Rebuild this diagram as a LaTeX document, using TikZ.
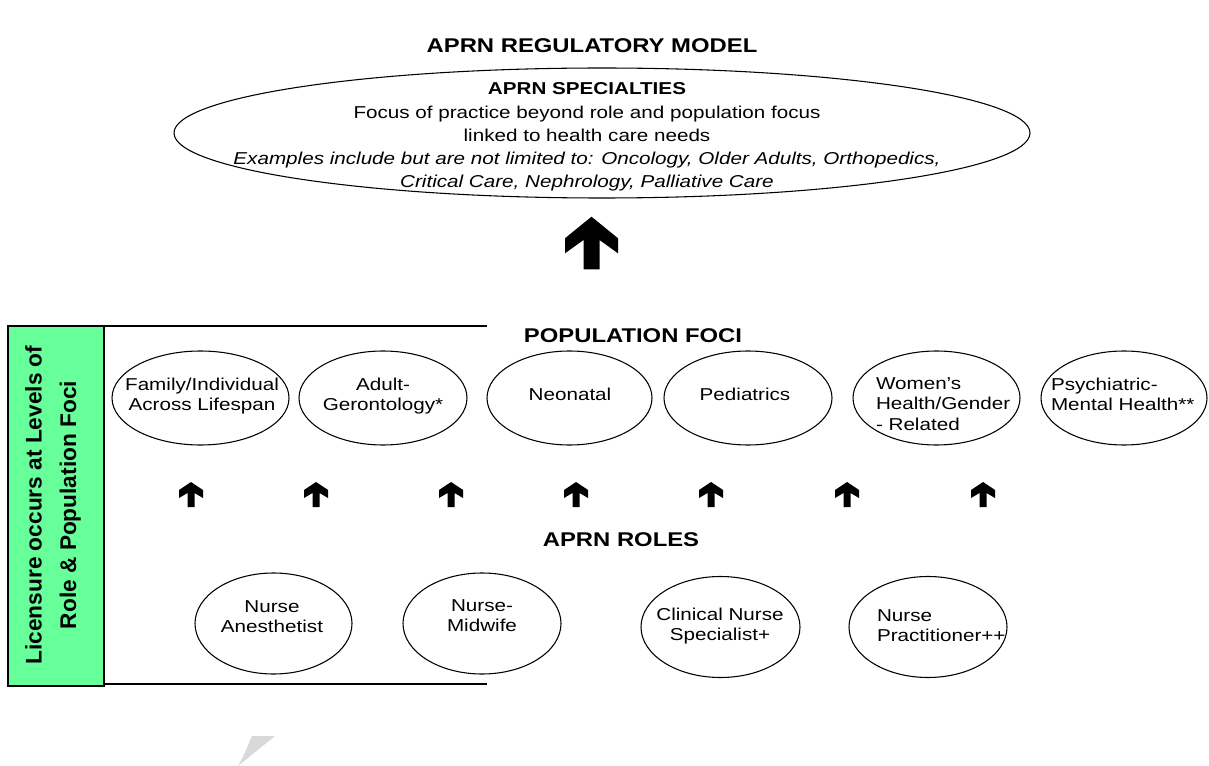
\documentclass[tikz,border=0pt]{standalone}
\usepackage{fontspec}
\setmainfont{Liberation Sans}[FakeStretch=1.2]
\newfontfamily\plainsans{Liberation Sans}
\usetikzlibrary{shapes.geometric}
\definecolor{licgreen}{RGB}{102,255,153}
\begin{document}
\begin{tikzpicture}[x=0.75pt,y=-0.75pt,
  every node/.style={inner sep=0pt, outer sep=0pt},
  oval/.style 2 args={draw, ellipse, line width=0.8pt, minimum width=#1*1.5pt, minimum height=#2*1.5pt},
  lbl/.style={font=\fontsize{12.9pt}{15.2pt}\selectfont, align=center},
  lbll/.style={font=\fontsize{12.9pt}{15.2pt}\selectfont, align=left, anchor=west},
  hdr/.style={font=\fontsize{14.9pt}{17pt}\selectfont\bfseries},
  rule/.style={line width=0.8pt},
  smallup/.pic={\fill (0,0) -- (-12,8) -- (-12,16) -- (-3.5,11) -- (-3.5,25) -- (3.5,25) -- (3.5,11) -- (12,16) -- (12,8) -- cycle;},
  bigup/.pic={\fill (0,0) -- (-26.5,21.6) -- (-26.5,36.6) -- (-8,23.3) -- (-8,52.6) -- (8,52.6) -- (8,23.3) -- (26.5,36.6) -- (26.5,21.6) -- cycle;}
]
\useasboundingbox[fill=white] (0,0) rectangle (1209,766);

% title
\node[hdr] (title) at (592,46) {APRN REGULATORY MODEL};

% specialties
\node[oval={428}{65}] (spec) at (602,133) {};
\node[font=\fontsize{12.9pt}{17.4pt}\selectfont, align=center] (spectext) at (587,137)
 {\textbf{APRN SPECIALTIES}\\
  Focus of practice beyond role and population focus\\
  linked to health care needs\\
  \textit{Examples include but are not limited to: Oncology, Older Adults, Orthopedics,}\\
  \textit{Critical Care, Nephrology, Palliative Care}};

\pic (bigarrow) at (591.5,216.7) {bigup};

% licensure box
\node[draw, rule, fill=licgreen, minimum width=96*0.75pt, minimum height=360*0.75pt] (lic) at (56,506) {};
\node[rotate=90, font=\plainsans\bfseries\fontsize{17pt}{26pt}\selectfont, align=center] (lictext) at (53,505)
 {Licensure occurs at Levels of\\Role \& Population Foci};
\coordinate (topend) at (487,326);
\coordinate (botend) at (487,684);
\draw[rule] (lic.north east) -- (topend);
\draw[rule] (lic.south east |- botend) -- (botend);

% population foci
\node[hdr] (pophdr) at (633,336) {POPULATION FOCI};
\node[oval={88.5}{47}] (p1) at (200.5,398) {};
\node[oval={84}{47}] (p2) at (383,398) {};
\node[oval={82.5}{47}] (p3) at (569.5,398) {};
\node[oval={84}{47}] (p4) at (748,398) {};
\node[oval={83.5}{47}] (p5) at (936.5,398) {};
\node[oval={83}{47}] (p6) at (1124,398) {};
\node[lbl] (t1) at (202,396) {Family/Individual\\Across Lifespan};
\node[lbl] (t2) at (383,396) {Adult-\\Gerontology*};
\node[lbl] (t3) at (570,394) {Neonatal};
\node[lbl] (t4) at (745,394) {Pediatrics};
\node[lbll] (t5) at (876,404) {Women’s\\Health/Gender\\- Related};
\node[lbll] (t6) at (1051,394) {Psychiatric-\\Mental Health**};

% small arrows
\foreach \ax [count=\i] in {191,316,451,576,711,847,983}
  \pic (sa\i) at (\ax,482) {smallup};

% roles
\node[hdr] (rolehdr) at (621,540) {APRN ROLES};
\node[oval={78.5}{50.5}] (r1) at (273.5,623.5) {};
\node[oval={79}{50.5}] (r2) at (482,623.5) {};
\node[oval={79.5}{50.5}] (r3) at (720.5,627) {};
\node[oval={79}{50.5}] (r4) at (928,627) {};
\node[lbl] (u1) at (272,617) {Nurse\\Anesthetist};
\node[lbl] (u2) at (482,616) {Nurse-\\Midwife};
\node[lbl] (u3) at (720,626) {Clinical Nurse\\Specialist+};
\node[lbll] (u4) at (877,626) {Nurse\\Practitioner++};

% faint mark
\fill[black!15] (238,766) .. controls (246,752) and (249,742) .. (252,736) -- (275,736) -- cycle;
\end{tikzpicture}
\end{document}
